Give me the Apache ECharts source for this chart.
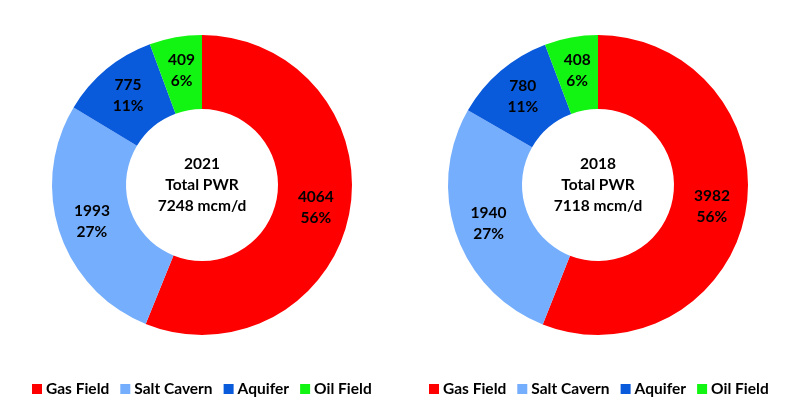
<!DOCTYPE html>
<html><head><meta charset="utf-8">
<script src="https://cdn.jsdelivr.net/npm/echarts@6/dist/echarts.min.js"></script>
<style>html,body{margin:0;padding:0;background:#fff}#c{width:800px;height:404px}</style>
</head><body><div id="c"></div>
<script>
const categories = ['Gas Field', 'Salt Cavern', 'Aquifer', 'Oil Field'];
const colors = ['#FF0000', '#75AEFD', '#0A5ADC', '#12F512'];
const values2021 = [4064, 1993, 775, 409];
const pct2021 = [56, 27, 11, 6];
const values2018 = [3982, 1940, 780, 408];
const pct2018 = [56, 27, 11, 6];
const centerText2021 = ['2021', 'Total PWR', '7248 mcm/d'];
const centerText2018 = ['2018', 'Total PWR', '7118 mcm/d'];

const FONT = 'Lato';
const FS = 15.5;
function mkData(vals, pcts) {
  return categories.map((n, i) => ({ name: n, value: vals[i], pct: pcts[i], itemStyle: { color: colors[i] } }));
}
function mkSeries(vals, pcts, cx) {
  return {
    type: 'pie', center: [cx, 185], radius: [76, 150], startAngle: 90, clockwise: true,
    avoidLabelOverlap: false, silent: true,
    label: {
      show: true, position: 'inside', color: '#000', fontFamily: FONT, fontWeight: 'bold', fontSize: FS, lineHeight: 21,
      formatter: p => p.value + '\n' + p.data.pct + '%'
    },
    labelLine: { show: false },
    data: mkData(vals, pcts)
  };
}
function mkLegend(left) {
  return {
    left: left, top: 376, itemWidth: 10, itemHeight: 10, itemGap: 11, icon: 'rect',
    textStyle: { fontFamily: FONT, fontWeight: 'bold', fontSize: FS, color: '#000', padding: [0, 0, 0, -1] },
    data: categories, selectedMode: false
  };
}
function centerText(cx, lines) {
  return { type: 'text', x: cx, y: 185, style: { text: lines.join('\n'), x: 0, y: 0, align: 'center', verticalAlign: 'middle', fontFamily: FONT, fontWeight: 'bold', fontSize: FS, lineHeight: 21, fill: '#000' } };
}
const chart = echarts.init(document.getElementById('c'));
chart.setOption({
  backgroundColor: '#fff',
  animation: false,
  legend: [mkLegend(27), mkLegend(424)],
  graphic: [centerText(202, centerText2021), centerText(598, centerText2018)],
  series: [
    mkSeries(values2021, pct2021, 202),
    mkSeries(values2018, pct2018, 598)
  ]
});
</script></body></html>
